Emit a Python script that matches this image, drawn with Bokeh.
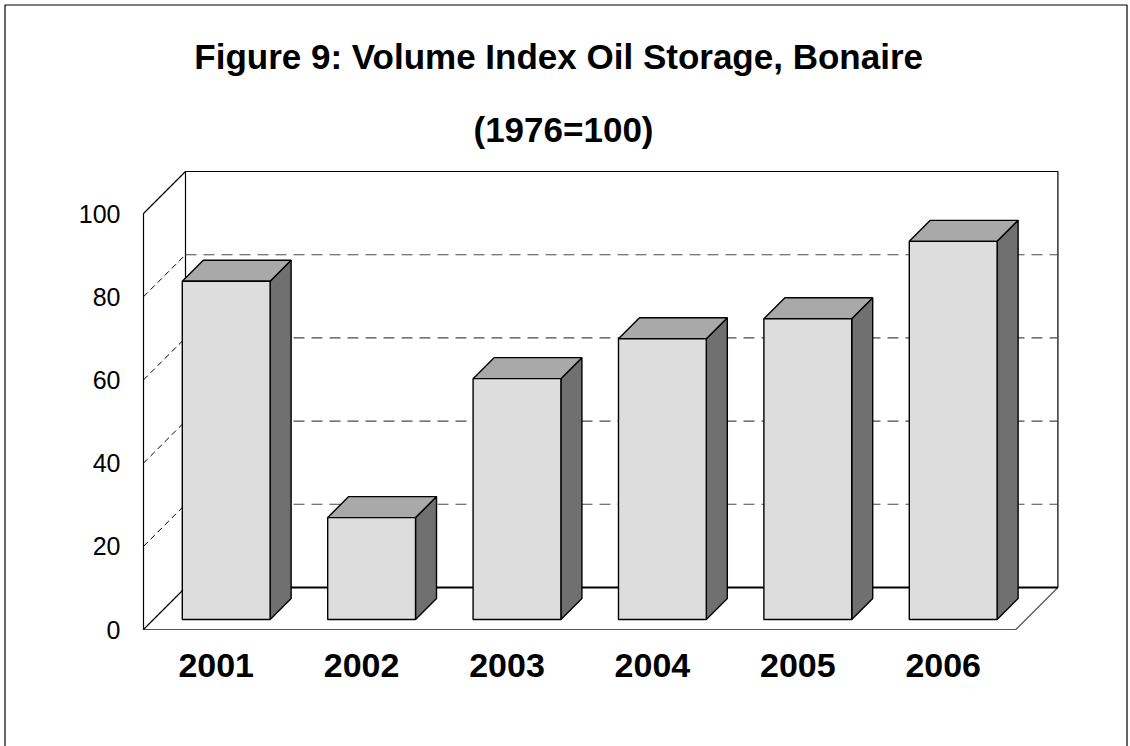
from bokeh.plotting import figure
from bokeh.models import Range1d
from bokeh.embed import file_html
from bokeh.resources import INLINE
from bokeh.core.properties import value

# ---------------- data ----------------
years = ["2001", "2002", "2003", "2004", "2005", "2006"]
index_values = [81.3, 24.5, 57.9, 67.5, 72.3, 90.9]
y_ticks = [0, 20, 40, 60, 80, 100]
y_tick_labels = ["0", "20", "40", "60", "80", "100"]
title_text = "Figure 9: Volume Index  Oil Storage, Bonaire"
subtitle_text = "(1976=100)"

# ---------------- layout ----------------
W, H = 1130, 746
PX_X = 145.4          # pixels per category slot
PX_Y = 4.16           # pixels per value unit
ORIGIN_X = 143        # canvas px of front-plane category 0
ORIGIN_Y = 629        # canvas px of front-plane value 0
DEPTH_PX = 42
ddx = DEPTH_PX / PX_X
ddy = DEPTH_PX / PX_Y
f1, f2 = 10 / 42, 31 / 42   # bar front/back depth fractions
hw = 0.302                   # half bar width in category units
n = len(years)
vmax = y_ticks[-1]

p = figure(width=W, height=H, output_backend="svg", toolbar_location=None,
           x_range=Range1d(-ORIGIN_X / PX_X, (W - ORIGIN_X) / PX_X),
           y_range=Range1d(-(H - ORIGIN_Y) / PX_Y, ORIGIN_Y / PX_Y),
           min_border=0, min_border_left=0, min_border_right=0,
           min_border_top=0, min_border_bottom=0)
p.axis.visible = False
p.grid.visible = False
p.outline_line_color = None
p.background_fill_color = "white"
p.border_fill_color = "white"

def xpx(px):
    return (px - ORIGIN_X) / PX_X

def ypx(py):
    return (ORIGIN_Y - py) / PX_Y

# outer chart-area border (left, top, right)
yb = p.y_range.start
p.line([xpx(4.5), xpx(4.5), xpx(1126.5), xpx(1126.5)],
       [yb, ypx(4.5), ypx(4.5), yb], line_color="black", line_width=1.2)

# floor
p.patch([0, n, n + ddx, ddx], [0, 0, ddy, ddy], fill_color="white",
        line_color=None)
p.line([0, n, n + ddx], [0, 0, ddy], line_color="#555555", line_width=1.2)
# left wall
p.line([ddx, 0, 0, ddx], [ddy, 0, vmax, vmax + ddy], line_color="black", line_width=1.2)
# back wall
p.line([ddx, ddx, n + ddx, n + ddx], [ddy, vmax + ddy, vmax + ddy, ddy],
       line_color="black", line_width=1.2)
p.line([ddx, n + ddx], [ddy, ddy], line_color="black", line_width=2.2)

# gridlines on back wall and left wall
for t in y_ticks[1:-1]:
    p.line([ddx, n + ddx], [t + ddy, t + ddy], line_color="#4a4a4a",
           line_width=1.1, line_dash="11 7")
    p.line([0, ddx], [t, t + ddy], line_color="black", line_width=1.0,
           line_dash="6 4")

# bars
fx, fy, tx, ty, sx, sy = [], [], [], [], [], []
for i, v in enumerate(index_values):
    c = i + 0.5
    x0 = c - hw
    x1 = c + hw
    fx.append([x0 + f1 * ddx, x1 + f1 * ddx, x1 + f1 * ddx, x0 + f1 * ddx])
    fy.append([f1 * ddy, f1 * ddy, v + f1 * ddy, v + f1 * ddy])
    tx.append([x0 + f1 * ddx, x1 + f1 * ddx, x1 + f2 * ddx, x0 + f2 * ddx])
    ty.append([v + f1 * ddy, v + f1 * ddy, v + f2 * ddy, v + f2 * ddy])
    sx.append([x1 + f1 * ddx, x1 + f2 * ddx, x1 + f2 * ddx, x1 + f1 * ddx])
    sy.append([f1 * ddy, f2 * ddy, v + f2 * ddy, v + f1 * ddy])

p.patches(sx, sy, fill_color="#707070", line_color="black", line_width=1.4)
p.patches(tx, ty, fill_color="#A9A9A9", line_color="black", line_width=1.4)
p.patches(fx, fy, fill_color="#DDDDDD", line_color="black", line_width=1.4)

# y tick labels
p.text(x=[xpx(120)] * len(y_ticks), y=y_ticks, text=y_tick_labels,
       text_align="right", text_baseline="middle",
       text_font=value("Liberation Sans"), text_font_size="25px",
       text_color="black")

# category labels
p.text(x=[i + 0.5 for i in range(n)], y=[ypx(665)] * n, text=years,
       text_align="center", text_baseline="middle",
       text_font=value("Liberation Sans"), text_font_style="bold",
       text_font_size="34px", text_color="black")

# titles
p.text(x=[xpx(563)], y=[ypx(56)], text=[title_text], text_align="center",
       text_baseline="middle", text_font=value("Liberation Sans"),
       text_font_style="bold", text_font_size="35px", text_color="black")
p.text(x=[xpx(563)], y=[ypx(129)], text=[subtitle_text], text_align="center",
       text_baseline="middle", text_font=value("Liberation Sans"),
       text_font_style="bold", text_font_size="35px", text_color="black")

open("out.html", "w").write(file_html(p, INLINE))
